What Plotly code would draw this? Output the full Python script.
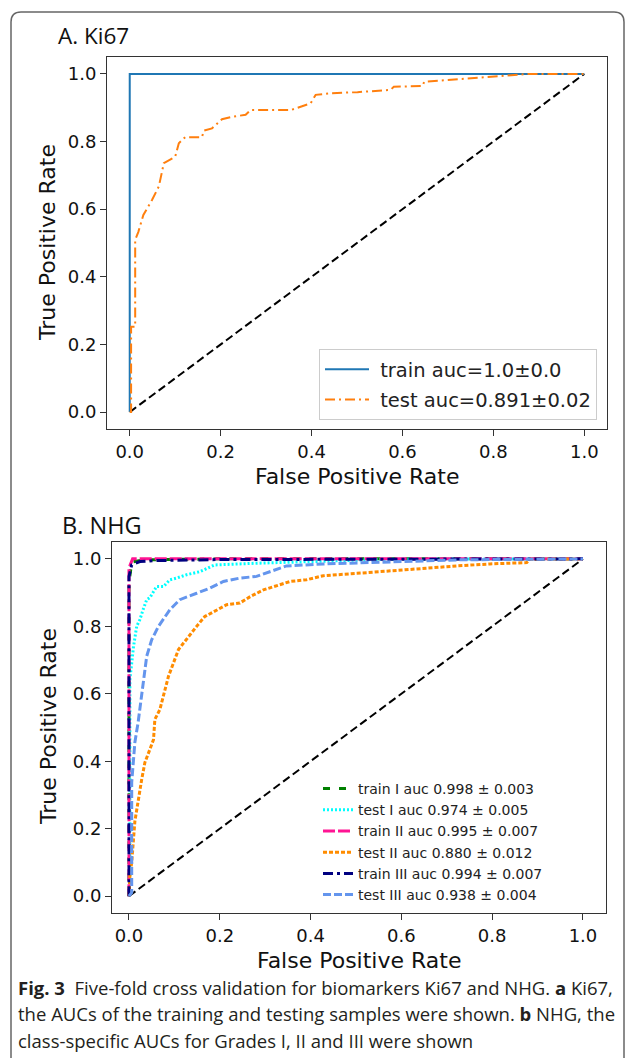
import plotly.graph_objects as go

# ---------------- data ----------------
# Panel A: Ki67
ki67_train_fpr = [0.0, 0.0, 1.0]
ki67_train_tpr = [0.0, 1.0, 1.0]
ki67_test_fpr = [0.0, 0.003, 0.003, 0.012, 0.012, 0.019, 0.030, 0.049, 0.064, 0.075, 0.100, 0.108,
                 0.122, 0.159, 0.163, 0.181, 0.203, 0.229, 0.255, 0.266, 0.354, 0.376, 0.398, 0.409,
                 0.442, 0.501, 0.574, 0.581, 0.644, 0.648, 0.714, 0.802, 0.879, 1.0]
ki67_test_tpr = [0.0, 0.0, 0.252, 0.252, 0.509, 0.533, 0.583, 0.627, 0.667, 0.736, 0.755, 0.795,
                 0.813, 0.813, 0.832, 0.839, 0.866, 0.874, 0.879, 0.893, 0.893, 0.903, 0.913, 0.938,
                 0.943, 0.946, 0.953, 0.962, 0.964, 0.977, 0.984, 0.994, 1.0, 1.0]
chance = [0.0, 1.0]

# Panel B: NHG
train1_fpr = [0.0, 0.0, 0.006, 0.03, 0.2, 1.0]
train1_tpr = [0.0, 0.93, 0.99, 0.997, 1.0, 1.0]
test1_fpr = [0.0, 0.002, 0.002, 0.01, 0.017, 0.024, 0.031, 0.039, 0.046, 0.061, 0.076, 0.09, 0.105,
             0.127, 0.156, 0.189, 0.281, 0.428, 0.575, 1.0]
test1_tpr = [0.0, 0.05, 0.642, 0.74, 0.80, 0.82, 0.849, 0.879, 0.885, 0.918, 0.918, 0.938, 0.943,
             0.953, 0.962, 0.982, 0.987, 0.992, 0.999, 1.0]
train2_fpr = [0.0, 0.0, 0.002, 0.008, 1.0]
train2_tpr = [0.0, 0.97, 0.98, 1.0, 1.0]
test2_fpr = [0.0, 0.002, 0.006, 0.013, 0.028, 0.035, 0.046, 0.054, 0.057, 0.068, 0.078, 0.087, 0.109,
             0.131, 0.149, 0.167, 0.193, 0.215, 0.244, 0.267, 0.296, 0.333, 0.355, 0.391, 0.428, 0.502,
             0.575, 0.648, 0.722, 0.795, 0.876, 0.883, 1.0]
test2_tpr = [0.0, 0.059, 0.10, 0.222, 0.346, 0.396, 0.435, 0.464, 0.524, 0.553, 0.605, 0.652, 0.731,
             0.770, 0.800, 0.829, 0.849, 0.864, 0.869, 0.888, 0.908, 0.923, 0.933, 0.938, 0.950, 0.957,
             0.965, 0.972, 0.979, 0.985, 0.989, 0.999, 1.0]
train3_fpr = [0.0, 0.0, 0.006, 0.024, 0.061, 0.2, 1.0]
train3_tpr = [0.0, 0.948, 0.982, 0.992, 0.995, 0.998, 1.0]
test3_fpr = [0.0, 0.006, 0.006, 0.013, 0.02, 0.028, 0.039, 0.05, 0.065, 0.09, 0.112, 0.149, 0.178,
             0.208, 0.244, 0.281, 0.311, 0.347, 0.428, 0.575, 0.722, 1.0]
test3_tpr = [0.0, 0.01, 0.337, 0.456, 0.514, 0.60, 0.711, 0.760, 0.800, 0.849, 0.879, 0.898, 0.913,
             0.933, 0.943, 0.948, 0.962, 0.979, 0.985, 0.992, 0.997, 1.0]

tick_vals = [0.0, 0.2, 0.4, 0.6, 0.8, 1.0]
tick_text = ["0.0", "0.2", "0.4", "0.6", "0.8", "1.0"]

legend_a = ["\u00a0train auc=1.0\u00b10.0", "\u00a0test auc=0.891\u00b10.02"]
legend_b = ["train I auc 0.998 \u00b1 0.003", "test I auc 0.974 \u00b1 0.005",
            "train II auc 0.995 \u00b1 0.007", "test II auc 0.880 \u00b1 0.012",
            "train III auc 0.994 \u00b1 0.007", "test III auc 0.938 \u00b1 0.004"]

caption_lines = [
    "<b>Fig. 3</b>\u00a0\u00a0Five-fold cross validation for biomarkers Ki67 and NHG. <b>a</b> Ki67,",
    "the AUCs of the training and testing samples were shown. <b>b</b> NHG, the",
    "class-specific AUCs for Grades I, II and III were shown",
]

# ---------------- figure ----------------
W, H = 630, 1058
def px(x):
    return x / W
def py(y):
    return 1 - y / H

fig = go.Figure()

# Panel A traces
fig.add_trace(go.Scatter(x=chance, y=chance, mode="lines", showlegend=False,
                         line=dict(color="black", width=2, dash="8px,4px"), xaxis="x", yaxis="y"))
fig.add_trace(go.Scatter(x=ki67_train_fpr, y=ki67_train_tpr, mode="lines", name=legend_a[0],
                         legend="legend", legendgroup="a1",
                         line=dict(color="#1f77b4", width=2), xaxis="x", yaxis="y"))
fig.add_trace(go.Scatter(x=ki67_test_fpr, y=ki67_test_tpr, mode="lines", name=legend_a[1],
                         legend="legend", legendgroup="a2",
                         line=dict(color="#ff7f0e", width=2, dash="10px,4px,2px,4px"),
                         xaxis="x", yaxis="y"))

# Panel B traces
fig.add_trace(go.Scatter(x=chance, y=chance, mode="lines", showlegend=False,
                         line=dict(color="black", width=2, dash="8px,4px"), xaxis="x2", yaxis="y2"))
b_series = [
    (train1_fpr, train1_tpr, "#008000", "7px,9px"),
    (test1_fpr, test1_tpr, "#00ffff", "2px,2px"),
    (train2_fpr, train2_tpr, "#ff1493", "12px,3px"),
    (test2_fpr, test2_tpr, "#ff8c00", "4px,2px"),
    (train3_fpr, train3_tpr, "#000080", "10px,4px,3px,4px"),
    (test3_fpr, test3_tpr, "#6495ed", "8px,3px"),
]
for i, (fx, fy, col, dash) in enumerate(b_series):
    fig.add_trace(go.Scatter(x=fx, y=fy, mode="lines", name=legend_b[i],
                             legend="legend2", legendgroup="b%d" % i,
                             line=dict(color=col, width=3, dash=dash), xaxis="x2", yaxis="y2"))

axis_common = dict(showgrid=False, zeroline=False, showline=True, mirror=True,
                   linecolor="#333333", linewidth=1, ticks="outside", ticklen=6,
                   tickcolor="#333333", tickvals=tick_vals, ticktext=tick_text,
                   tickfont=dict(family="DejaVu Sans", size=18, color="#111111"))

fig.update_layout(
    width=W, height=H,
    margin=dict(l=0, r=0, t=0, b=0),
    paper_bgcolor="white", plot_bgcolor="white",
    xaxis=dict(domain=[px(107), px(607)], range=[-0.05, 1.05], anchor="y", **axis_common),
    yaxis=dict(domain=[py(429), py(57)], range=[-0.05, 1.05], anchor="x", **axis_common),
    xaxis2=dict(domain=[px(112), px(606)], range=[-0.0374, 1.0507], anchor="y2", **axis_common),
    yaxis2=dict(domain=[py(913), py(542)], range=[-0.05, 1.05], anchor="x2", **axis_common),
    legend=dict(x=px(597), y=py(420), xanchor="right", yanchor="bottom",
                bgcolor="white", bordercolor="#cccccc", borderwidth=1,
                font=dict(family="DejaVu Sans", size=19.5, color="#222222"),
                tracegroupgap=2, itemwidth=44),
    legend2=dict(x=px(318), y=py(773), xanchor="left", yanchor="top",
                 bgcolor="rgba(255,255,255,0.8)", borderwidth=0,
                 font=dict(family="DejaVu Sans", size=14, color="#222222"),
                 tracegroupgap=0, itemwidth=30),
    showlegend=True,
)

annotations = []
# panel titles
annotations.append(dict(text="A. Ki67", x=px(56), y=py(36), xref="paper", yref="paper",
                        xanchor="left", yanchor="middle", showarrow=False,
                        font=dict(family="Open Sans", size=22.5, color="#111111")))
annotations.append(dict(text="B. NHG", x=px(60), y=py(525), xref="paper", yref="paper",
                        xanchor="left", yanchor="middle", showarrow=False,
                        font=dict(family="Open Sans", size=23.5, color="#111111")))
# axis titles
for yc in (243, 727):
    annotations.append(dict(text="True Positive Rate", x=px(48), y=py(yc), xref="paper", yref="paper",
                            xanchor="center", yanchor="middle", textangle=-90, showarrow=False,
                            font=dict(family="DejaVu Sans", size=22, color="#111111")))
for xc, yc in ((357, 476), (359, 960)):
    annotations.append(dict(text="False Positive Rate", x=px(xc), y=py(yc), xref="paper", yref="paper",
                            xanchor="center", yanchor="middle", showarrow=False,
                            font=dict(family="DejaVu Sans", size=22, color="#111111")))
# caption
for i, line in enumerate(caption_lines):
    annotations.append(dict(text=line, x=px(16), y=py(987 + 26.5 * i), xref="paper", yref="paper",
                            xanchor="left", yanchor="middle", showarrow=False,
                            font=dict(family="Open Sans", size=18.5, color="#231f20")))
fig.update_layout(annotations=annotations)

# outer rounded frame
x0, x1, yt, r = px(11), px(624), py(12), 10
rx, ry = r / W, r / H
frame = (f"M {x0},0 L {x0},{yt - ry} Q {x0},{yt} {x0 + rx},{yt} "
         f"L {x1 - rx},{yt} Q {x1},{yt} {x1},{yt - ry} L {x1},0")
fig.update_layout(shapes=[dict(type="path", path=frame, xref="paper", yref="paper",
                               line=dict(color="#666666", width=1.5))])

fig.write_html("out.html", config={"displayModeBar": False},
               post_script="document.body.style.margin='0';document.body.style.overflow='hidden';")
